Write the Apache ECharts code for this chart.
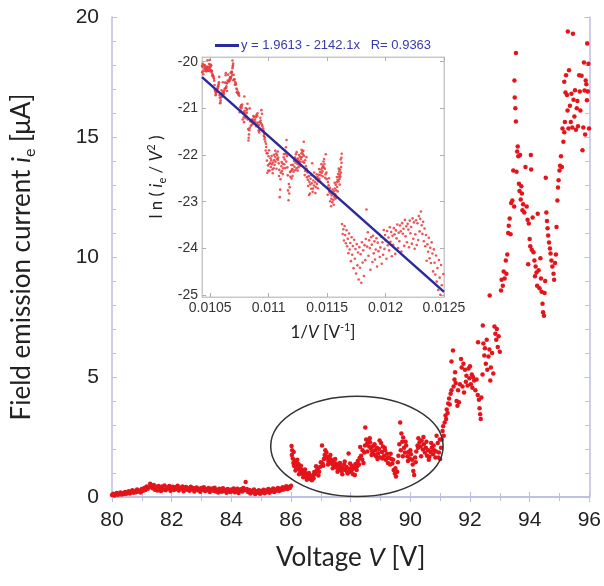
<!DOCTYPE html>
<html><head><meta charset="utf-8">
<script src="https://cdn.jsdelivr.net/npm/echarts@6/dist/echarts.min.js"></script>
<style>html,body{margin:0;padding:0;background:#fff}#c{width:604px;height:586px}</style>
</head><body><div id="c"></div><script>
// ---- data: [voltage V (V), emission current i_e (uA)] ----
const baselinePts = [
[80.00,0.08],[80.04,0.14],[80.08,0.06],[80.12,0.11],[80.16,0.17],[80.20,0.09],[80.24,0.13],[80.28,0.19],[80.32,0.10],[80.36,0.16],
[80.40,0.12],[80.44,0.21],[80.48,0.14],[80.52,0.18],[80.56,0.24],[80.60,0.15],[80.64,0.22],[80.68,0.28],[80.72,0.18],[80.76,0.25],
[80.80,0.20],[80.84,0.31],[80.88,0.23],[80.92,0.27],[80.96,0.19],[81.00,0.33],[81.04,0.26],[81.08,0.38],[81.12,0.29],[81.16,0.44],
[81.20,0.34],[81.24,0.41],[81.28,0.55],[81.32,0.47],[81.36,0.36],[81.40,0.50],[81.44,0.30],[81.48,0.43],[81.52,0.27],[81.56,0.46],
[81.60,0.34],[81.64,0.25],[81.68,0.44],[81.72,0.31],[81.76,0.48],[81.80,0.28],[81.84,0.40],[81.88,0.35],[81.92,0.46],[81.96,0.26],
[82.00,0.38],[82.04,0.43],[82.08,0.29],[82.12,0.41],[82.16,0.33],[82.20,0.47],[82.24,0.27],[82.28,0.39],[82.32,0.35],[82.36,0.44],
[82.40,0.24],[82.44,0.37],[82.48,0.42],[82.52,0.30],[82.56,0.36],[82.60,0.26],[82.64,0.43],[82.68,0.32],[82.72,0.38],[82.76,0.23],
[82.80,0.35],[82.84,0.40],[82.88,0.28],[82.92,0.34],[82.96,0.22],[83.00,0.37],[83.04,0.30],[83.08,0.41],[83.12,0.25],[83.16,0.33],
[83.20,0.28],[83.24,0.38],[83.28,0.21],[83.32,0.31],[83.36,0.35],[83.40,0.26],[83.44,0.39],[83.48,0.23],[83.52,0.30],[83.56,0.19],
[83.60,0.34],[83.64,0.27],[83.68,0.22],[83.72,0.36],[83.76,0.25],[83.80,0.30],[83.84,0.18],[83.88,0.33],[83.92,0.26],[83.96,0.21],
[84.00,0.31],[84.04,0.24],[84.08,0.35],[84.12,0.20],[84.16,0.29],[84.20,0.34],[84.24,0.17],[84.28,0.27],[84.32,0.32],[84.36,0.23],
[84.40,0.38],[84.44,0.28],[84.48,0.62],[84.52,0.33],[84.56,0.21],[84.60,0.29],[84.64,0.15],[84.68,0.26],[84.72,0.20],[84.76,0.31],
[84.80,0.13],[84.84,0.24],[84.88,0.18],[84.92,0.28],[84.96,0.14],[85.00,0.25],[85.04,0.19],[85.08,0.30],[85.12,0.16],[85.16,0.27],
[85.20,0.22],[85.24,0.33],[85.28,0.18],[85.32,0.29],[85.36,0.24],[85.40,0.35],[85.44,0.21],[85.48,0.31],[85.52,0.27],[85.56,0.38],
[85.60,0.25],[85.64,0.34],[85.68,0.29],[85.72,0.41],[85.76,0.31],[85.80,0.37],[85.84,0.45],[85.88,0.33],[85.92,0.42],[85.96,0.38],
[86.00,0.47]
];
const circledPts = [
[86.02,2.12],[86.04,1.95],[86.06,1.60],[86.08,1.42],[86.10,1.30],[86.12,1.52],[86.14,1.36],[86.16,1.24],[86.18,1.46],[86.20,1.30],
[86.22,1.18],[86.25,1.38],[86.28,1.22],[86.31,1.05],[86.34,1.16],[86.37,0.98],[86.40,1.10],[86.43,0.90],[86.46,1.02],[86.49,0.85],
[86.52,0.96],[86.55,0.80],[86.58,0.92],[86.62,0.76],[86.66,0.88],[86.70,0.70],[86.74,0.92],[86.78,1.04],[86.82,0.96],[86.86,1.10],
[86.90,1.18],[86.94,1.05],[86.98,1.26],[87.04,2.15],[87.06,1.40],[87.10,1.58],[87.13,1.75],[87.16,1.62],[87.19,1.85],[87.22,1.68],
[87.25,1.50],[87.28,1.62],[87.31,1.45],[87.34,1.56],[87.38,1.38],[87.42,1.48],[87.46,1.28],[87.50,1.40],[87.54,1.22],[87.58,1.34],
[87.62,1.15],[87.66,1.28],[87.70,1.08],[87.74,1.20],[87.78,1.35],[87.82,1.12],[87.86,1.25],[87.90,0.98],[87.93,1.81],[87.96,1.18],
[88.00,1.05],[88.04,1.30],[88.08,0.95],[88.12,1.22],[88.16,1.38],[88.20,1.12],[88.24,1.50],[88.28,1.35],[88.32,2.08],[88.35,1.72],
[88.39,1.55],[88.43,1.42],[88.46,1.85],[88.49,2.90],[88.52,2.40],[88.55,2.22],[88.58,2.35],[88.62,2.10],[88.65,2.28],[88.68,2.02],
[88.72,1.90],[88.75,2.12],[88.78,1.78],[88.82,1.95],[88.85,1.70],[88.88,2.05],[88.92,1.82],[88.95,2.00],[88.98,1.66],[89.02,2.25],
[89.05,1.88],[89.08,2.10],[89.12,1.72],[89.15,1.95],[89.18,1.55],[89.22,1.80],[89.25,1.42],[89.28,1.65],[89.32,1.35],[89.36,1.58],
[89.40,1.40],[89.44,1.12],[89.48,0.98],[89.52,0.85],[89.56,1.05],[89.60,1.72],[89.63,2.20],[89.66,3.10],[89.70,2.65],[89.73,2.30],
[89.76,2.48],[89.79,2.05],[89.82,1.85],[89.86,2.15],[89.90,1.70],[89.94,1.88],[89.98,1.60],[90.02,1.78],[90.06,1.55],[90.10,1.08],
[90.13,0.92],[90.16,1.65],[90.20,1.90],[90.24,2.15],[90.27,2.45],[90.31,2.28],[90.34,2.10],[90.38,2.35],[90.42,1.98],[90.45,2.20],
[90.49,1.85],[90.52,2.05],[90.56,1.72],[90.60,1.95],[90.64,1.68],[90.68,1.88],[90.72,2.05],[90.76,1.78],[90.80,1.95],[90.84,1.65],
[90.88,2.55],[90.92,2.25],[90.96,1.85],[91.00,1.58],[91.03,2.05]
];
const circledExtraPts = [
[86.03,1.75],[86.09,1.88],[86.15,1.10],[86.21,1.55],[86.27,0.95],[86.33,1.30],[86.41,0.82],[86.47,1.15],[86.53,0.72],[86.60,1.00],
[86.68,0.82],[86.76,0.78],[86.84,1.28],[86.92,0.90],[87.00,1.45],[87.08,1.30],[87.15,1.95],[87.24,1.35],[87.32,1.75],[87.40,1.20],
[87.48,1.58],[87.56,1.05],[87.64,1.42],[87.72,0.95],[87.80,1.48],[87.88,1.05],[87.98,1.40],[88.06,1.15],[88.14,0.92],[88.22,1.28],
[88.30,1.62],[88.40,1.95],[88.48,2.15],[88.56,1.90],[88.64,2.45],[88.70,1.75],[88.80,2.20],[88.90,1.58],[88.97,2.35],[89.06,1.60],
[89.14,2.05],[89.24,1.62],[89.34,1.80],[89.42,1.55],[89.50,1.20],[89.58,1.45],[89.68,1.95],[89.75,1.70],[89.84,2.30],[89.92,1.50],
[90.00,1.95],[90.08,1.35],[90.18,1.45],[90.26,2.05],[90.36,1.70],[90.44,2.50],[90.54,2.30],[90.62,1.55],[90.70,2.25],[90.78,2.15],
[90.86,1.90],[90.94,1.65],[90.99,2.40]
];
const risePts = [
[91.05,2.40],[91.08,2.75],[91.10,2.95],[91.12,2.55],[91.15,3.10],[91.18,3.40],[91.20,3.25],[91.22,3.65],[91.25,3.50],[91.27,3.90],
[91.30,4.10],[91.32,3.85],[91.35,4.30],[91.38,4.45],[91.38,5.65],[91.43,6.10],[91.45,4.60],[91.48,4.90],[91.50,5.20],[91.52,4.75],
[91.55,4.00],[91.58,3.80],[91.60,4.45],[91.63,3.95],[91.66,4.70],[91.70,5.75],[91.72,5.40],[91.75,4.60],[91.78,5.55],[91.80,4.35],
[91.83,5.30],[91.86,4.80],[91.88,5.05],[91.92,4.65],[91.95,5.35],[91.98,4.95],[92.00,5.45],[92.03,4.70],[92.06,5.10],[92.08,4.55],
[92.10,5.00],[92.14,4.85],[92.18,4.45],[92.22,4.90],[92.26,4.25],[92.27,6.45],[92.30,4.05],[92.32,3.70],[92.34,3.45],[92.36,3.25],
[92.38,4.15],[92.42,5.10],[92.43,7.15],[92.45,6.40],[92.48,5.90],[92.50,6.20],[92.53,5.55],[92.56,6.55],[92.58,5.30],[92.62,5.85],
[92.65,6.15],[92.66,8.40],[92.68,4.85],[92.70,5.40],[92.74,6.00],[92.78,5.15],[92.82,7.10],[92.85,6.80],[92.88,6.55],[92.90,7.00],
[92.93,6.25],[92.96,6.70],[93.00,6.05],[93.04,8.60],[93.06,9.05],[93.10,8.80],[93.13,9.40],[93.16,9.10],[93.20,9.85],[93.22,9.30],
[93.25,10.10],[93.28,11.00],[93.30,11.30],[93.33,11.60],[93.36,10.95],[93.38,12.25],[93.42,12.35],[93.45,13.60],[93.48,12.10],[93.49,17.35],
[93.50,16.65],[93.52,16.20],[93.54,18.50],[93.54,15.65],[93.56,13.55],[93.58,14.40],[93.60,14.60],[93.62,14.20],[93.64,13.05],[93.66,12.75],
[93.68,14.25],[93.70,12.40],[93.72,12.95],[93.74,12.65],[93.76,11.95],[93.78,12.20],[93.82,11.85],[93.86,13.75],[93.90,12.10],[93.93,11.55],
[93.95,9.70],[93.97,11.40],[94.00,10.75],[94.02,10.45],[94.04,14.25],[94.05,13.65],[94.07,10.30],[94.10,11.65],[94.13,10.20],[94.16,9.85],
[94.18,9.20],[94.20,9.60],[94.23,9.35],[94.25,8.80],[94.27,11.80],[94.30,9.45],[94.33,8.70],[94.36,9.95],[94.38,9.10],[94.40,8.55],
[94.43,8.05],[94.45,7.70],[94.48,7.55],[94.50,8.50],[94.52,9.00],[94.54,13.30],[94.56,11.85],[94.58,11.50],[94.60,11.20],[94.62,10.90],
[94.65,10.60],[94.68,10.35],[94.70,10.15],[94.73,9.85],[94.76,9.60],[94.80,9.30],[94.82,9.05],[94.85,9.75],[94.88,10.10],[94.90,11.25],
[94.93,12.35],[94.95,12.90],[94.97,13.20],[95.00,13.60],[95.02,13.80],[95.05,14.20],[95.08,13.75],[95.10,15.35],[95.13,14.80],[95.16,15.20],
[95.16,17.30],[95.18,15.62],[95.20,16.85],[95.22,17.57],[95.25,16.75],[95.27,16.10],[95.28,19.40],[95.30,15.35],[95.32,17.78],[95.35,16.30],
[95.38,15.62],[95.40,16.80],[95.43,15.40],[95.45,19.30],[95.47,16.55],[95.50,15.85],[95.52,16.95],[95.55,15.30],[95.58,16.20],[95.60,16.50],
[95.62,15.45],[95.66,17.57],[95.68,16.90],[95.70,16.10],[95.74,17.55],[95.77,14.45],[95.80,15.40],[95.82,18.10],[95.84,16.94],[95.86,15.10],
[95.88,17.35],[95.90,17.20],[95.92,16.53],[95.93,18.90],[95.95,16.90],[95.97,18.05],[95.99,15.35]
];
// inset fit line end points: 1/V and ln(i_e/V^2)
const fitLineX = [0.01043, 0.0125];
const fitLineY = [-20.33, -24.93];
const fitIntercept = '1.9613', fitSlope = '2142.1', fitR = '0.9363';
// axis ranges / tick labels
const mainXRange = [80, 96], mainYRange = [0, 20];
const insetXRange = [0.01043, 0.0125], insetYRange = [-25.04, -19.9];
const insetXTicks = [0.0105, 0.011, 0.0115, 0.012, 0.0125];
const insetYTicks = [-25, -24, -23, -22, -21, -20];
// circled region (data units): centre V, centre i, half-width V, half-height i
const ringCenter = [88.21, 2.11], ringHalf = [2.89, 2.09];

// ---- build ----
const mainPts = baselinePts.concat(circledPts, circledExtraPts, risePts);
// inset = Fowler–Nordheim transform of the same measurements: ln(i_e/V^2) vs 1/V (i_e in A)
const insetPts = mainPts.map(p => [1 / p[0], Math.log(p[1] * 1e-6 / (p[0] * p[0]))]);

const AX = '#bdbde6', IN = '#c8c8c8', TXT = '#222';
const tickFont = 'Liberation Sans, Arial, sans-serif';
const nameFont = 'Lato, "Open Sans", sans-serif';
const chart = echarts.init(document.getElementById('c'), null, {renderer: 'canvas'});

function frameAxis(extra) {
  return Object.assign({
    type: 'value', axisLine: {show: true, lineStyle: {color: AX, width: 1.5}},
    axisTick: {show: true, inside: true, length: 5, lineStyle: {color: AX}},
    splitLine: {show: false}, axisLabel: {show: false}
  }, extra);
}
function insetAxis(extra) {
  return Object.assign({
    type: 'value', axisLine: {show: true, lineStyle: {color: IN, width: 1}},
    axisTick: {show: true, inside: true, length: 4, lineStyle: {color: '#b0b0b0'}},
    splitLine: {show: false}, axisLabel: {show: false}
  }, extra);
}
const sub = {fontFamily: nameFont, fontSize: 16, color: TXT, verticalAlign: 'bottom', lineHeight: 32};
const big = {fontFamily: nameFont, fontSize: 26, color: TXT, lineHeight: 32};
const bigI = Object.assign({}, big, {fontStyle: 'italic'});
const sm = {fontFamily: nameFont, fontSize: 17, color: TXT, lineHeight: 22};
const smI = Object.assign({}, sm, {fontStyle: 'italic'});
const smSub = {fontFamily: nameFont, fontSize: 11, color: TXT, verticalAlign: 'bottom', lineHeight: 22};
const smSup = {fontFamily: nameFont, fontSize: 11, color: TXT, verticalAlign: 'top', lineHeight: 22};

const option = {
  animation: false,
  backgroundColor: '#fff',
  grid: [
    {left: 112, right: 11, top: 17, bottom: 89},
    {left: 202, right: 160, top: 57, bottom: 289, show: true, backgroundColor: '#fff', borderColor: IN, borderWidth: 1}
  ],
  legend: {
    left: 210, top: 34, itemWidth: 24, itemHeight: 3, icon: 'rect', itemGap: 0,
    data: ['fit'],
    formatter: () => 'y = ' + fitIntercept + ' - ' + fitSlope + 'x   R= ' + fitR,
    textStyle: {fontFamily: tickFont, fontSize: 13, color: '#3a3aa8', padding: [0, 0, 0, -3]}
  },
  xAxis: [
    frameAxis({gridIndex: 0, position: 'bottom', min: mainXRange[0], max: mainXRange[1], interval: 2,
      minorTick: {show: true, splitNumber: 2, length: 4, lineStyle: {color: AX}},
      axisLabel: {show: true, margin: 13, fontSize: 21, color: TXT, fontFamily: tickFont},
      name: '{a|Voltage }{b|V}{a| [V]}', nameLocation: 'middle', nameGap: 45,
      nameTextStyle: {rich: {a: big, b: bigI}}}),
    frameAxis({gridIndex: 0, position: 'top', min: mainXRange[0], max: mainXRange[1], interval: 2,
      minorTick: {show: true, splitNumber: 2, length: 4, lineStyle: {color: AX}}}),
    insetAxis({gridIndex: 1, position: 'bottom', min: insetXRange[0], max: insetXRange[1],
      axisTick: {show: true, inside: true, length: 4, customValues: insetXTicks, lineStyle: {color: '#b0b0b0'}},
      axisLabel: {show: true, customValues: insetXTicks, margin: 4, fontSize: 14, color: '#333', fontFamily: tickFont,
        formatter: v => String(+(+v).toFixed(4))},
      name: '{a|1/}{i|V}{a| [V}{p|-1}{a|]}', nameLocation: 'middle', nameGap: 25,
      nameTextStyle: {rich: {a: sm, i: smI, p: smSup}}}),
    insetAxis({gridIndex: 1, position: 'top', min: insetXRange[0], max: insetXRange[1],
      axisTick: {show: true, inside: true, length: 4, customValues: insetXTicks, lineStyle: {color: '#b0b0b0'}}})
  ],
  yAxis: [
    frameAxis({gridIndex: 0, position: 'left', min: mainYRange[0], max: mainYRange[1], interval: 5,
      minorTick: {show: true, splitNumber: 5, length: 4, lineStyle: {color: AX}},
      axisLabel: {show: true, margin: 13, fontSize: 21, color: TXT, fontFamily: tickFont},
      name: '{a|Field emission current }{i|i}{s|e}{a| [μA]}', nameLocation: 'middle', nameGap: 74,
      nameTextStyle: {rich: {a: big, i: bigI, s: sub}}}),
    frameAxis({gridIndex: 0, position: 'right', min: mainYRange[0], max: mainYRange[1], interval: 5,
      minorTick: {show: true, splitNumber: 5, length: 4, lineStyle: {color: AX}}}),
    insetAxis({gridIndex: 1, position: 'left', min: insetYRange[0], max: insetYRange[1],
      axisTick: {show: true, inside: true, length: 4, customValues: insetYTicks, lineStyle: {color: '#b0b0b0'}},
      axisLabel: {show: true, customValues: insetYTicks, margin: 4, fontSize: 14, color: '#333', fontFamily: tickFont},
      name: '{a|l n ( }{i|i}{s|e}{a| / }{i|V}{p|2}{a| )}', nameLocation: 'middle', nameGap: 34,
      nameTextStyle: {rich: {a: sm, i: smI, s: smSub, p: smSup}}}),
    insetAxis({gridIndex: 1, position: 'right', min: insetYRange[0], max: insetYRange[1],
      axisTick: {show: true, inside: true, length: 4, customValues: insetYTicks, lineStyle: {color: '#b0b0b0'}}})
  ],
  series: [
    {type: 'scatter', name: 'main', xAxisIndex: 0, yAxisIndex: 0, data: mainPts, symbolSize: 4.5,
      itemStyle: {color: '#e3141b', opacity: 1}, z: 3},
    {type: 'scatter', name: 'inset', xAxisIndex: 2, yAxisIndex: 2, data: insetPts, symbolSize: 2.6, clip: true,
      itemStyle: {color: '#e8383c', opacity: 0.85}, z: 4},
    {type: 'line', name: 'fit', xAxisIndex: 2, yAxisIndex: 2, data: [[fitLineX[0], fitLineY[0]], [fitLineX[1], fitLineY[1]]],
      showSymbol: false, symbol: 'none', lineStyle: {color: '#2a2a9c', width: 2.5}, itemStyle: {color: '#2a2a9c'}, z: 5}
  ]
};
chart.setOption(option);
const c = chart.convertToPixel({gridIndex: 0}, ringCenter);
const e = chart.convertToPixel({gridIndex: 0}, [ringCenter[0] + ringHalf[0], ringCenter[1] + ringHalf[1]]);
chart.setOption({graphic: [{type: 'ellipse', z: 10, silent: true,
  shape: {cx: c[0], cy: c[1], rx: Math.abs(e[0] - c[0]), ry: Math.abs(c[1] - e[1])},
  style: {fill: 'none', stroke: '#333', lineWidth: 1.5}}]});
</script></body></html>
